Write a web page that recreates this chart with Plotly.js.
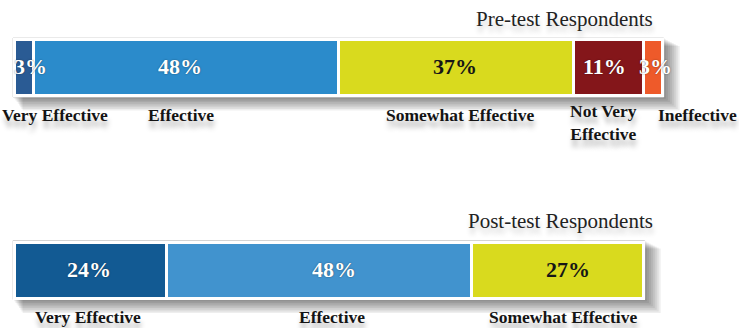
<!DOCTYPE html>
<html><head><meta charset="utf-8">
<script src="https://cdn.plot.ly/plotly-3.0.1.min.js"></script>
<style>html,body{margin:0;padding:0;background:#fff;overflow:hidden}</style>
</head><body><div id="chart" style="width:739px;height:328px"></div>
<script>
// ---- data ----
const groups = ["Post-test Respondents", "Pre-test Respondents"];
const preCategories = ["Very Effective", "Effective", "Somewhat Effective", "Not Very<br>Effective", "Ineffective"];
const preValues = [3, 48, 37, 11, 3];
const postCategories = ["Very Effective", "Effective", "Somewhat Effective"];
const postValues = [24, 48, 27];

// ---- styles ----
const preColors = ["#2a5b94", "#2b8bcb", "#d9da1e", "#84161a", "#ee5a2a"];
const postColors = ["#125a93", "#4193ce", "#d9da1e"];
const preTextColors = ["#fff", "#fff", "#161616", "#fff", "#fff"];
const postTextColors = ["#fff", "#fff", "#161616"];
const prePctShift = [6, -6, -1, -4, 3];
const postPctShift = [-2, 15, 11];
const preLblShift = [31, -5, 4, -5, 45];
const preLblYShift = [0, 0, 0, 4, 0];
const postLblShift = [-3, 13, 6];
const postLblYShift = [0, 0, 0];

const PXX = 6.35, PXY = 202.5;
const BAR_W = 56 / PXY;
const serif = "Liberation Serif, DejaVu Serif, serif";
const LBL_SHADOW = "1px 7px 5px rgba(0,0,0,0.28)";
const PCT_SHADOW = "0px 0px 1.5px rgba(0,0,0,0.55)";

const traces = [], annotations = [], shapes = [];

function addGroup(gi, cats, vals, colors, tcolors, pctShift, lblShift, lblYShift, title) {
  const g = groups[gi];
  let cum = 0;
  const total = vals.reduce((a, b) => a + b, 0);
  // soft shadow
  for (let k = 1; k <= 8; k++) {
    shapes.push({type: "rect", layer: "below", xref: "x", yref: "y",
      x0: -0.236 + (k * 1.2) / PXX, x1: total + 0.236 + (k * 2.0) / PXX,
      y0: gi - 0.1457 - (k * 1.7) / PXY, y1: gi + 0.1457 - (k * 1.0) / PXY,
      fillcolor: "rgba(0,0,0,0.065)", line: {width: 0}});
  }
  // frame
  shapes.push({type: "rect", layer: "below", xref: "x", yref: "y",
    x0: -0.236, x1: total + 0.236, y0: gi - 0.1457, y1: gi + 0.1457,
    fillcolor: "#ffffff", line: {color: "#d4d4d4", width: 1}});
  vals.forEach((v, i) => {
    traces.push({type: "bar", orientation: "h", y: [g], x: [v], width: BAR_W,
      marker: {color: colors[i], line: {color: "#ffffff", width: 3}},
      hoverinfo: "skip", showlegend: false});
    const c = cum + v / 2;
    const pf = {family: serif, size: 22, weight: 700, color: tcolors[i]};
    if (tcolors[i] === "#fff") pf.shadow = PCT_SHADOW;
    annotations.push({xref: "x", yref: "y", x: c, y: gi, text: v + "%", showarrow: false,
      xshift: pctShift[i], yshift: 1, xanchor: "center", yanchor: "middle", font: pf});
    annotations.push({xref: "x", yref: "y", x: c, y: gi, text: cats[i], showarrow: false,
      xshift: lblShift[i], yshift: -35 + lblYShift[i], xanchor: "center", yanchor: "top",
      font: {family: serif, size: 17.5, weight: 700, color: "#141414", shadow: LBL_SHADOW}});
    cum += v;
  });
  annotations.push({xref: "paper", yref: "y", x: 655 / 739, y: gi, text: title, showarrow: false,
    xanchor: "right", yanchor: "middle", yshift: 49,
    font: {family: serif, size: 21, color: "#222", shadow: "1px 6px 5px rgba(0,0,0,0.18)"}});
}

addGroup(1, preCategories, preValues, preColors, preTextColors, prePctShift, preLblShift, preLblYShift, "Pre-test Respondents");
addGroup(0, postCategories, postValues, postColors, postTextColors, postPctShift, postLblShift, postLblYShift, "Post-test Respondents");

const layout = {
  width: 739, height: 328,
  margin: {l: 0, r: 0, t: 0, b: 0},
  paper_bgcolor: "#ffffff", plot_bgcolor: "#ffffff",
  barmode: "stack", showlegend: false,
  xaxis: {range: [-14.5 / PXX, (739 - 14.5) / PXX], visible: false, fixedrange: true},
  yaxis: {type: "category", categoryarray: groups, categoryorder: "array",
    range: [-(328 - 270) / PXY, 1 + 67.5 / PXY], visible: false, fixedrange: true},
  shapes: shapes, annotations: annotations
};
Plotly.newPlot("chart", traces, layout, {displayModeBar: false, staticPlot: true});
</script></body></html>
